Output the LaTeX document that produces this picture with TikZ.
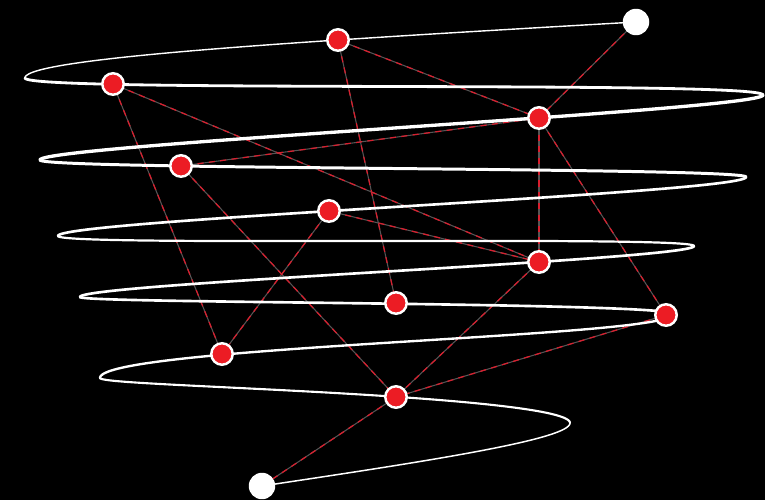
\documentclass[tikz,border=0pt]{standalone}
\usepackage{tikz}
\usepackage{xcolor}

\definecolor{knotred}{HTML}{EC1C24}
\definecolor{linkred}{HTML}{D91E2E}
\definecolor{linkgray}{HTML}{555555}

% one half turn of the coil: x0 y0 x1 y1 drift bulge width
\newcommand{\halfturn}[7]{%
  \draw[coil, line width=#7] plot[domain=0:1, samples=100, variable=\s]
    ({#1+((#3)-(#1))*(1-cos(180*\s))/2},
     {#2+(#5)*\s+((#4)-(#2)-(#5))*(1-cos(180*\s))/2+(#6)*sin(180*\s)});}

\begin{document}
\begin{tikzpicture}[x=0.02cm,y=-0.02cm,
  coil/.style={draw=white, line cap=round, line join=round},
  link/.style={draw=linkgray, line width=0.6pt, shorten <=3pt, shorten >=3pt,
    postaction={draw=linkred, line width=0.7pt, dash pattern=on 3.5pt off 3pt,
      shorten <=3pt, shorten >=3pt}},
  knot/.style={circle, fill=knotred, draw=white, line width=1.4pt,
    minimum size=0.43cm, inner sep=0pt},
  endknot/.style={circle, fill=white, minimum size=0.53cm, inner sep=0pt}]
\useasboundingbox[fill=black] (0,0) rectangle (765,500);

\coordinate (s) at (636,22);
\coordinate (a) at (338,40);
\coordinate (b) at (113,84);
\coordinate (c) at (539,118);
\coordinate (d) at (181,166);
\coordinate (e) at (329,211);
\coordinate (f) at (539,262);
\coordinate (g) at (396,303);
\coordinate (h) at (666,315);
\coordinate (i) at (222,354);
\coordinate (j) at (396,397);
\coordinate (t) at (262,486);

% connectors
\draw[link] (s) -- (c);
\draw[link] (a) -- (c);
\draw[link] (a) -- (g);
\draw[link] (b) -- (f);
\draw[link] (b) -- (i);
\draw[link] (d) -- (c);
\draw[link] (d) -- (j);
\draw[link] (e) -- (f);
\draw[link] (e) -- (i);
\draw[link] (c) -- (f);
\draw[link] (c) -- (h);
\draw[link] (f) -- (j);
\draw[link] (h) -- (j);
\draw[link] (j) -- (t);

% the coil
\draw[coil, line width=0.8pt] plot[domain=0:1, samples=100, variable=\s]
  ({636-611*sin(90*\s)}, {22+57*\s-sin(90*\s)});
\halfturn{25}{78}{763}{95}{41}{0}{1.6pt}
\halfturn{763}{95}{40}{160}{41}{0}{1.9pt}
\halfturn{40}{160}{746}{177}{27}{0}{1.7pt}
\halfturn{746}{177}{58}{236}{44}{0}{1.5pt}
\halfturn{58}{236}{694}{246}{30}{0}{1.25pt}
\halfturn{694}{246}{80}{297}{37}{0}{1.5pt}
\halfturn{80}{297}{673}{314}{25}{-2}{1.5pt}
\halfturn{673}{314}{100}{378}{76}{-3.2}{1.35pt}
\halfturn{100}{378}{570}{423}{50}{-7.5}{1.2pt}
\draw[coil, line width=0.85pt] plot[domain=0:1, samples=100, variable=\s]
  ({570-308*(1-cos(90*\s))}, {423+46*\s+17*(1-cos(90*\s))});

% nodes
\node[endknot] (S) at (s) {};
\node[endknot] (T) at (t) {};
\foreach \n in {a,b,c,d,e,f,g,h,i,j}
  \node[knot] (\n0) at (\n) {};
\end{tikzpicture}
\end{document}
